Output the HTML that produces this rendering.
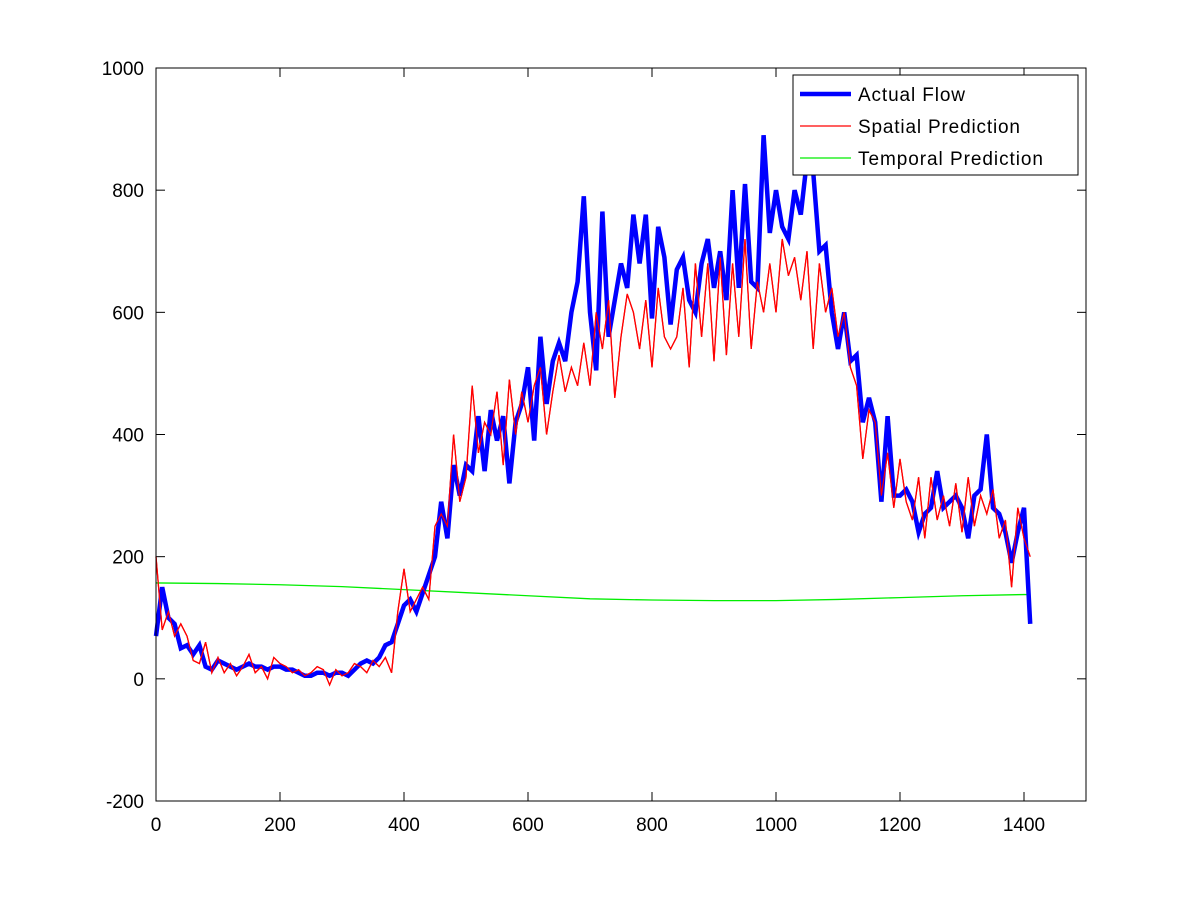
<!DOCTYPE html>
<html><head><meta charset="utf-8"><style>
body{margin:0;background:#fff}
svg{display:block;font-family:"Liberation Sans",sans-serif}
</style></head><body>
<svg id="chart" width="1200" height="900"></svg>
<script>
const actualStep = 10;
const actualFlow = [70,150,100,90,50,55,40,55,20,15,
30,25,20,15,20,25,20,20,15,20,
20,15,15,10,5,5,10,10,5,10,
10,5,15,25,30,25,35,55,60,90,
120,130,110,140,170,200,290,230,350,300,
350,340,430,340,440,390,430,320,420,450,
510,390,560,450,520,550,520,600,650,790,
600,505,765,560,620,680,640,760,680,760,
590,740,690,580,670,690,620,600,680,720,
640,700,620,800,640,810,650,640,890,730,
800,740,720,800,760,850,830,700,710,600,
540,600,520,530,420,460,420,290,430,300,
300,310,290,240,270,280,340,280,290,300,
280,230,300,310,400,280,270,240,190,240,
280,90];
const spatialPred = [200,80,110,70,90,70,30,25,60,10,
35,10,25,5,20,40,10,20,0,35,
25,20,10,15,5,10,20,15,-10,15,
5,10,25,20,10,30,20,35,10,110,
180,110,130,150,130,250,270,250,400,290,
330,480,370,420,400,470,350,490,400,470,
420,480,510,400,470,530,470,510,480,550,
480,600,540,620,460,560,630,600,540,620,
510,640,560,540,560,640,510,680,560,680,
520,690,530,680,560,720,540,650,600,680,
600,720,660,690,620,700,540,680,600,640,
560,600,510,480,360,440,420,300,370,280,
360,290,260,330,230,330,260,300,250,320,
240,330,250,300,270,310,230,260,150,280,
230,200];
const temporalX = [0,100,200,300,400,500,600,700,800,900,1000,1100,1200,1300,1400,1410];
const temporalPred = [157,156,154,151,146,141,136,131,129,128,128,130,133,136,138,138];
const xTicks = [0,200,400,600,800,1000,1200,1400];
const yTicks = [-200,0,200,400,600,800,1000];

const L=156,R=1086,T=68,B=801;
const sx=v=>L+(v-0)*(R-L)/1500;
const sy=v=>B-(v+200)*(B-T)/1200;
const svg=document.getElementById('chart');
const NS='http://www.w3.org/2000/svg';
function mk(tag,attrs,parent){const e=document.createElementNS(NS,tag);for(const k in attrs)e.setAttribute(k,attrs[k]);(parent||svg).appendChild(e);return e;}

const gridG=mk('g',{});


xTicks.forEach(v=>{
  const x=sx(v);
  mk('line',{x1:x,x2:x,y1:B,y2:B-9,stroke:'#000'},gridG);
  mk('line',{x1:x,x2:x,y1:T,y2:T+9,stroke:'#000'},gridG);
  const t=mk('text',{x:x,y:B+30,'text-anchor':'middle','font-size':19},gridG);
  t.textContent=v;
  
  
});
yTicks.forEach(v=>{
  const y=sy(v);
  mk('line',{x1:L,x2:L+9,y1:y,y2:y,stroke:'#000'},gridG);
  mk('line',{x1:R,x2:R-9,y1:y,y2:y,stroke:'#000'},gridG);
  const t=mk('text',{x:L-12,y:y+7,'text-anchor':'end','font-size':19},gridG);
  t.textContent=v;
  
  
});

function pts(xs,ys){return ys.map((v,i)=>sx(xs(i))+','+sy(v)).join(' ');}
const sp=mk('polyline',{points:pts(i=>i*actualStep,spatialPred),fill:'none',stroke:'#ff0000','stroke-width':1.3});


const tp=mk('polyline',{points:pts(i=>temporalX[i],temporalPred),fill:'none',stroke:'#00ee00','stroke-width':1.3});


const af=mk('polyline',{points:pts(i=>i*actualStep,actualFlow),fill:'none',stroke:'#0000ff','stroke-width':4.5,'stroke-linejoin':'miter'});


const sp2=mk('polyline',{points:pts(i=>i*actualStep,spatialPred),fill:'none',stroke:'#ff0000','stroke-width':1.2});



const frame=mk('rect',{x:L,y:T,width:R-L,height:B-T,fill:'none',stroke:'#000','stroke-width':1});



const lg=mk('g',{});


mk('rect',{x:793,y:75,width:285,height:100,fill:'#fff',stroke:'#000'},lg);
const entries=[['Actual Flow','#0000ff',4.5,94,107],['Spatial Prediction','#ff0000',1.3,126,162],['Temporal Prediction','#00ee00',1.3,158,185]];
entries.forEach(e=>{
  const g=mk('g',{},lg);
  
  
  mk('line',{x1:800,x2:851,y1:e[3],y2:e[3],stroke:e[1],'stroke-width':e[2]},g);
  const t=mk('text',{x:858,y:e[3]+7,'font-size':19,textLength:e[4],lengthAdjust:'spacing'},g);
  t.textContent=e[0];
});
</script>
</body></html>
